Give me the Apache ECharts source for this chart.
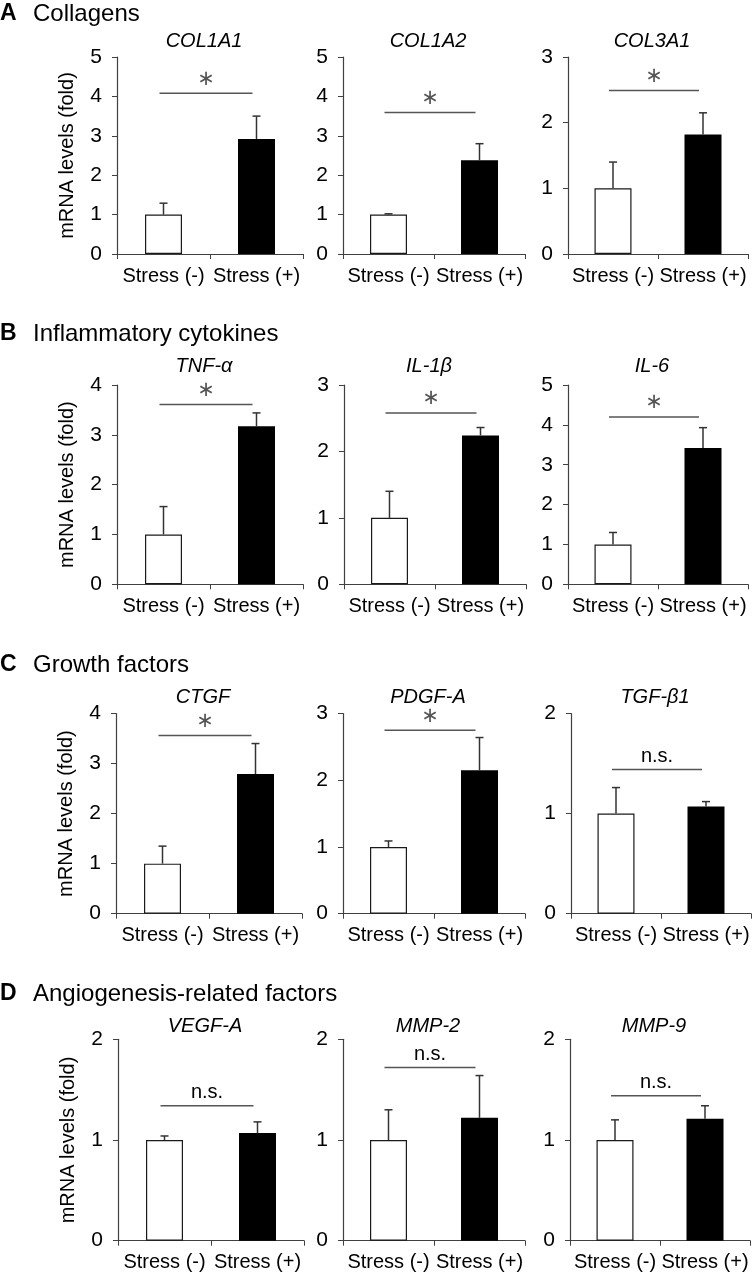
<!DOCTYPE html>
<html>
<head>
<meta charset="utf-8">
<script src="https://cdn.jsdelivr.net/npm/echarts@6/dist/echarts.min.js"></script>
<style>html,body{margin:0;padding:0;background:#fff;}#main{width:753px;height:1274px;}</style>
</head>
<body>
<div id="main"></div>
<script>
// ---- data ----
const categories = ['Stress (-)', 'Stress (+)'];
const sectionLetters = ['A', 'B', 'C', 'D'];
const sectionNames = ['Collagens', 'Inflammatory cytokines', 'Growth factors', 'Angiogenesis-related factors'];
const panelTitles = ['COL1A1', 'COL1A2', 'COL3A1', 'TNF-α', 'IL-1β', 'IL-6', 'CTGF', 'PDGF-A', 'TGF-β1', 'VEGF-A', 'MMP-2', 'MMP-9'];
const yMax = [5, 5, 3, 4, 3, 5, 4, 3, 2, 2, 2, 2];
const stressNeg = [1.0, 1.0, 1.0, 1.0, 1.0, 1.0, 1.0, 1.0, 1.0, 1.0, 1.0, 1.0];
const stressNegErr = [0.29, 0.02, 0.40, 0.56, 0.40, 0.30, 0.35, 0.09, 0.26, 0.04, 0.30, 0.20];
const stressPos = [2.92, 2.38, 1.82, 3.17, 2.24, 3.42, 2.79, 2.15, 1.07, 1.07, 1.22, 1.21];
const stressPosErr = [0.58, 0.42, 0.33, 0.27, 0.12, 0.51, 0.61, 0.49, 0.05, 0.11, 0.42, 0.13];
const sigLevel = [4.08, 3.59, 2.49, 3.61, 2.58, 4.2, 3.56, 2.75, 1.44, 1.34, 1.72, 1.44];
const sigLabel = ['∗', '∗', '∗', '∗', '∗', '∗', '∗', '∗', 'n.s.', 'n.s.', 'n.s.', 'n.s.'];

// ---- layout (pixels) ----
const rowTop = [57, 385, 713.5, 1039.3];
const rowBottom = [254, 584.3, 913.7, 1240.7];
const colLeft = [[117, 343, 568], [117, 344, 568], [116, 343, 571], [118, 343, 570]];
const colWidth = [186, 182, 180];
const headerY = [14, 334, 665, 994];
const titleY = [41, 366, 697, 1026];

const FONT = 'Liberation Sans, Arial, sans-serif';
const AXIS_COLOR = '#404040';

const grid = [], xAxis = [], yAxis = [], series = [], graphic = [];

for (let r = 0; r < 4; r++) {
  graphic.push({type: 'text', x: 0, y: headerY[r], style: {text: sectionLetters[r], font: 'bold 23px ' + FONT, fill: '#000', align: 'left', verticalAlign: 'middle'}});
  graphic.push({type: 'text', x: 33, y: headerY[r], style: {text: sectionNames[r], font: '24px ' + FONT, fill: '#000', align: 'left', verticalAlign: 'middle'}});
}

for (let i = 0; i < 12; i++) {
  const r = Math.floor(i / 3), c = i % 3;
  const left = colLeft[r][c], width = colWidth[c];
  const top = rowTop[r], height = rowBottom[r] - rowTop[r];
  grid.push({left: left, top: top, width: width, height: height, containLabel: false});
  graphic.push({type: 'text', x: left + width / 2 - 6, y: titleY[r], style: {text: panelTitles[i], font: 'italic 20px ' + FONT, fill: '#000', align: 'center', verticalAlign: 'middle'}});
  xAxis.push({
    type: 'category', gridIndex: i, data: categories, boundaryGap: true,
    axisLine: {lineStyle: {color: AXIS_COLOR, width: 1.2}},
    axisTick: {show: true, length: 5, lineStyle: {color: AXIS_COLOR}},
    axisLabel: {interval: 0, margin: 12, color: '#000', fontSize: 20, fontFamily: FONT}
  });
  yAxis.push({
    type: 'value', gridIndex: i, min: 0, max: yMax[i], interval: 1,
    splitLine: {show: false},
    axisLine: {show: true, lineStyle: {color: AXIS_COLOR, width: 1.2}},
    axisTick: {show: true, length: 5, lineStyle: {color: AXIS_COLOR}},
    axisLabel: {margin: 15, color: '#000', fontSize: 21, fontFamily: FONT},
    name: c === 0 ? 'mRNA levels (fold)' : '',
    nameLocation: 'middle', nameGap: 40, nameRotate: 90,
    nameTextStyle: {fontSize: 20, color: '#000', fontFamily: FONT}
  });
  series.push({
    type: 'bar', xAxisIndex: i, yAxisIndex: i, barWidth: 37,
    data: [
      {value: stressNeg[i], itemStyle: {color: '#fff', borderColor: '#1a1a1a', borderWidth: 1.2}},
      {value: stressPos[i], itemStyle: {color: '#000'}}
    ]
  });
  series.push({
    type: 'custom', xAxisIndex: i, yAxisIndex: i, clip: false, z: 3,
    encode: {x: 0, y: [1, 2]},
    data: [[0, stressNeg[i], stressNeg[i] + stressNegErr[i]], [1, stressPos[i], stressPos[i] + stressPosErr[i]]],
    renderItem: function (params, api) {
      const p0 = api.coord([api.value(0), api.value(1)]);
      const p1 = api.coord([api.value(0), api.value(2)]);
      const st = {stroke: '#333', lineWidth: 1.5};
      return {type: 'group', children: [
        {type: 'line', shape: {x1: p0[0], y1: p0[1], x2: p1[0], y2: p1[1]}, style: st},
        {type: 'line', shape: {x1: p1[0] - 4, y1: p1[1], x2: p1[0] + 4, y2: p1[1]}, style: st}
      ]};
    }
  });
  const label = sigLabel[i];
  series.push({
    type: 'custom', xAxisIndex: i, yAxisIndex: i, clip: false, z: 3,
    encode: {x: 0, y: 1},
    data: [[0, sigLevel[i]]],
    renderItem: function (params, api) {
      const a = api.coord([0, api.value(1)]);
      const b = api.coord([1, api.value(1)]);
      const isStar = label === '∗';
      return {type: 'group', children: [
        {type: 'line', shape: {x1: a[0] - 4, y1: a[1], x2: b[0] - 4, y2: b[1]}, style: {stroke: '#555', lineWidth: 1.5}},
        {type: 'text', x: (a[0] + b[0]) / 2 - 4, y: a[1] - (isStar ? 14 : 13),
          style: {text: label, font: isStar ? '21px DejaVu Sans' : '20px ' + FONT, fill: isStar ? '#555' : '#000', align: 'center', verticalAlign: 'middle'}}
      ]};
    }
  });
}

const chart = echarts.init(document.getElementById('main'), null, {renderer: 'canvas'});
chart.setOption({animation: false, backgroundColor: '#fff', grid, xAxis, yAxis, series, graphic});
</script>
</body>
</html>
